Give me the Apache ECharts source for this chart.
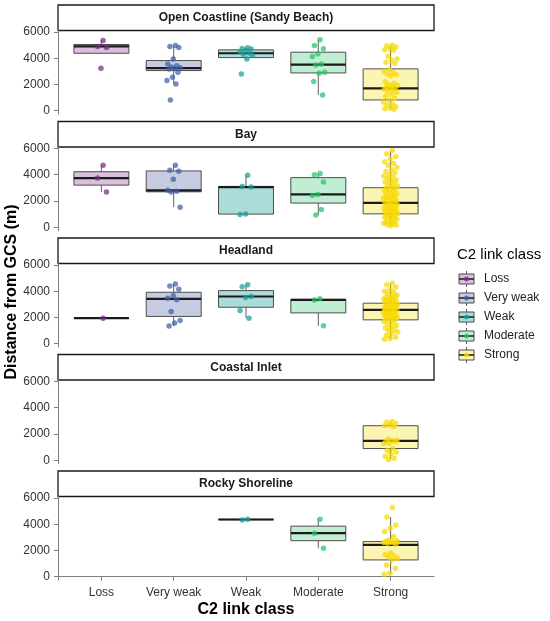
<!DOCTYPE html>
<html>
<head>
<meta charset="utf-8">
<script src="https://cdn.jsdelivr.net/npm/echarts@6.0.0/dist/echarts.min.js"></script>
<style>
	html,body{margin:0;padding:0;background:#fff;}
	#chart{width:550px;height:621px;}
</style>
</head>
<body>
<div id="chart"></div>
<script>
// categories / panels / ticks
var categories = ['Loss', 'Very weak', 'Weak', 'Moderate', 'Strong'];
var panels = ['Open Coastline (Sandy Beach)', 'Bay', 'Headland', 'Coastal Inlet', 'Rocky Shoreline'];
var yTicks = [0, 2000, 4000, 6000];

// box stats per panel: [min, Q1, median, Q3, max], null = no data
var boxOpen     = [[4380, 4380, 4900, 5050, 5360], [2040, 3060, 3250, 3825, 4970], [3950, 4050, 4380, 4640, 4800], [1200, 2880, 3520, 4460, 5410], [100, 820, 1710, 3190, 5000]];
var boxBay      = [[2680, 3210, 3750, 4230, 4720], [1530, 2700, 2810, 4290, 4720], [970, 1000, 3060, 3110, 3960], [940, 1840, 2500, 3780, 4100], [120, 1020, 1860, 3010, 5850]];
var boxHeadland = [[1950, 1950, 1950, 1950, 1950], [1350, 2080, 3420, 3920, 4550], [1950, 2780, 3600, 4050, 4500], [1370, 2350, 3340, 3380, 3420], [350, 1820, 2580, 3090, 4600]];
var boxInlet    = [null, null, null, null, [50, 890, 1480, 2630, 2950]];
var boxRocky    = [null, null, [4330, 4345, 4360, 4375, 4390], [2170, 2745, 3320, 3855, 4390], [180, 1280, 2430, 2680, 4560]];

// individual observations per panel, one list per category
var ptsOpen = [
	[5360, 4900, 4820, 3240],
	[4970, 4900, 4820, 3950, 3570, 3420, 3330, 3280, 3220, 3180, 2930, 2550, 2300, 2040, 820],
	[4800, 4750, 4700, 4600, 4500, 4400, 4300, 4200, 3950, 2800],
	[5410, 4970, 4720, 4340, 4130, 3570, 3480, 2930, 2860, 2220, 1200],
	[5000, 4950, 4850, 4700, 4650, 4600, 4150, 3950, 3850, 3700, 3600, 3150, 3000, 2900, 2800, 2750, 2650, 2200, 2100, 2000,
	 1950, 1850, 1800, 1750, 1700, 1650, 1600, 1500, 1400, 1250, 1100, 950, 800, 650, 500, 400, 300, 200, 150, 100]
];
var ptsBay = [
	[4720, 3750, 2680],
	[4720, 4340, 4260, 3650, 2810, 2750, 2680, 1530],
	[3960, 3100, 3060, 1000, 970],
	[4100, 4000, 3450, 2500, 2420, 1350, 940],
	[5850, 5600, 5400, 5200, 5000, 4850, 4700, 4550, 4400, 4250, 4150, 4000, 3900, 3800, 3700, 3600, 3500, 3450, 3350, 3250,
	 3150, 3050, 3000, 2950, 2850, 2800, 2700, 2650, 2550, 2500, 2400, 2350, 2300, 2200, 2150, 2100, 2050, 1950, 1900, 1850,
	 1800, 1750, 1700, 1650, 1600, 1550, 1450, 1400, 1350, 1300, 1250, 1200, 1150, 1100, 1050, 1000, 950, 900, 850, 800,
	 750, 700, 600, 550, 450, 400, 350, 300, 250, 200, 150, 120]
];
var ptsHeadland = [
	[1950],
	[4550, 4400, 4150, 3650, 3470, 3350, 2450, 1770, 1570, 1350],
	[4500, 4350, 3600, 3520, 2530, 1950],
	[3420, 3340, 1370],
	[4600, 4500, 4300, 4150, 4000, 3900, 3800, 3700, 3650, 3550, 3500, 3450, 3400, 3350, 3300, 3250, 3200, 3150, 3100, 3050,
	 3000, 2950, 2900, 2850, 2800, 2750, 2700, 2650, 2600, 2580, 2550, 2500, 2450, 2400, 2350, 2300, 2250, 2200, 2150, 2100,
	 2050, 2000, 1950, 1900, 1850, 1800, 1700, 1600, 1500, 1400, 1300, 1200, 1100, 1000, 900, 800, 650, 500, 400, 350]
];
var ptsInlet = [
	[], [], [], [],
	[2950, 2900, 2800, 2700, 2650, 2550, 1600, 1550, 1500, 1450, 1400, 1300, 1250, 900, 750, 600, 450, 300, 150, 50]
];
var ptsRocky = [
	[], [],
	[4390, 4330],
	[4390, 3320, 2170],
	[5280, 4560, 3950, 3700, 3450, 3060, 2800, 2750, 2700, 2680, 2650, 2620, 2600, 2580, 2550, 2500, 1800, 1700, 1600, 1500,
	 1400, 1300, 890, 640, 260, 180]
];

var boxData = [boxOpen, boxBay, boxHeadland, boxInlet, boxRocky];
var pointData = [ptsOpen, ptsBay, ptsHeadland, ptsInlet, ptsRocky];

// styles
var catColor = ['#762a83', '#3f60a8', '#1a9e9a', '#22c46a', '#f7d900'];
var boxFill  = ['#d9bfdb', '#c5cce2', '#abdcd9', '#c1edd2', '#fcf4b2'];
var FONT = '"Liberation Sans", Arial, sans-serif';
var AXIS_GREY = '#7f7f7f';
var GRID_LEFT = 58, GRID_W = 376, TOP0 = 30.5, PITCH = 116.5, GRID_H = 83.5, STRIP_H = 25.5;

// fixed jitter, golden-ratio sequence (no randomness)
function jit(i){
	return (((i + 1) * 0.6180339887) % 1 - 0.5) * 0.2;
}

function renderBox(params, api){
	var x = api.value(0), ci = Math.round(x) - 1;
	var half = api.size([0.76, 0])[0] / 2;
	var lo = api.coord([x, api.value(1)]),
		q1 = api.coord([x, api.value(2)]),
		md = api.coord([x, api.value(3)]),
		q3 = api.coord([x, api.value(4)]),
		hi = api.coord([x, api.value(5)]);
	var cx = md[0];
	return {
		type: 'group',
		children: [
			{ type: 'line', shape: { x1: cx, y1: q3[1], x2: cx, y2: hi[1] }, style: { stroke: '#333', lineWidth: 0.8 } },
			{ type: 'line', shape: { x1: cx, y1: q1[1], x2: cx, y2: lo[1] }, style: { stroke: '#333', lineWidth: 0.8 } },
			{ type: 'rect', shape: { x: cx - half, y: q3[1], width: half * 2, height: q1[1] - q3[1] },
				style: { fill: boxFill[ci], stroke: '#4d4d4d', lineWidth: 1 } },
			{ type: 'line', shape: { x1: cx - half, y1: md[1], x2: cx + half, y2: md[1] }, style: { stroke: '#1a1a1a', lineWidth: 2.2 } }
		]
	};
}

var grids = [], xAxes = [], yAxes = [], series = [], graphics = [];

panels.forEach(function(name, p){
	var last = p === panels.length - 1;
	var top = TOP0 + PITCH * p;
	grids.push({ left: GRID_LEFT, width: GRID_W, top: top, height: GRID_H, containLabel: false, outerBoundsMode: 'none' });
	xAxes.push({
		gridIndex: p, type: 'value', min: 0.4, max: 5.6, show: last,
		splitLine: { show: false },
		axisLine: { show: true, lineStyle: { color: AXIS_GREY, width: 1 } },
		axisTick: { show: true, customValues: [1, 2, 3, 4, 5], length: 4, lineStyle: { color: AXIS_GREY } },
		axisLabel: {
			customValues: [1, 2, 3, 4, 5], color: '#333', fontSize: 12, margin: 7, fontFamily: FONT,
			formatter: function(v){ return categories[Math.round(v) - 1]; }
		},
		name: last ? 'C2 link class' : '', nameLocation: 'middle', nameGap: 22,
		nameTextStyle: { fontWeight: 'bold', fontSize: 16, color: '#000', fontFamily: FONT }
	});
	yAxes.push({
		gridIndex: p, type: 'value', min: -250, max: 6115,
		splitLine: { show: false },
		axisLine: { show: true, lineStyle: { color: AXIS_GREY, width: 1 } },
		axisTick: { show: true, customValues: yTicks, length: 4, lineStyle: { color: AXIS_GREY } },
		axisLabel: {
			customValues: yTicks, color: '#333', fontSize: 12, margin: 8, fontFamily: FONT,
			formatter: function(v){ return String(v); }
		}
	});

	// boxes
	var rows = [];
	boxData[p].forEach(function(b, c){
		if(b) rows.push([c + 1].concat(b));
	});
	series.push({
		type: 'custom', xAxisIndex: p, yAxisIndex: p, z: 2, silent: true,
		encode: { x: 0, y: [1, 2, 3, 4, 5] },
		renderItem: renderBox,
		data: rows
	});

	// jittered points
	pointData[p].forEach(function(vals, c){
		if(!vals.length) return;
		series.push({
			type: 'scatter', xAxisIndex: p, yAxisIndex: p, z: 3, silent: true,
			symbol: 'circle', symbolSize: 5.5,
			itemStyle: { color: catColor[c], opacity: 0.72 },
			data: vals.map(function(v, i){ return [c + 1 + jit(i), v]; })
		});
	});

	// strip
	graphics.push({
		type: 'rect', shape: { x: GRID_LEFT, y: top - STRIP_H, width: GRID_W, height: STRIP_H },
		style: { fill: '#fff', stroke: '#1a1a1a', lineWidth: 1.3 }
	});
	graphics.push({
		type: 'text', x: GRID_LEFT + GRID_W / 2, y: top - STRIP_H / 2,
		style: { text: name, font: 'bold 12px ' + FONT, fill: '#1a1a1a', align: 'center', verticalAlign: 'middle' }
	});
});

// y title
graphics.push({
	type: 'text', x: 12, y: 292, rotation: Math.PI / 2,
	style: { text: 'Distance from GCS (m)', font: 'bold 16px ' + FONT, fill: '#000', align: 'center', verticalAlign: 'middle' }
});

// legend
graphics.push({
	type: 'text', x: 457, y: 255,
	style: { text: 'C2 link class', font: '15px ' + FONT, fill: '#000', align: 'left', verticalAlign: 'middle' }
});
categories.forEach(function(cat, c){
	var cy = 279 + c * 19, kx = 459, kw = 15;
	graphics.push({ type: 'line', shape: { x1: kx + kw / 2, y1: cy - 8, x2: kx + kw / 2, y2: cy + 8 }, style: { stroke: '#333', lineWidth: 0.8 } });
	graphics.push({ type: 'rect', shape: { x: kx, y: cy - 5, width: kw, height: 10 }, style: { fill: boxFill[c], stroke: '#4d4d4d', lineWidth: 1 } });
	graphics.push({ type: 'line', shape: { x1: kx, y1: cy, x2: kx + kw, y2: cy }, style: { stroke: '#1a1a1a', lineWidth: 1.5 } });
	graphics.push({ type: 'circle', shape: { cx: kx + kw / 2, cy: cy, r: 2.5 }, style: { fill: catColor[c], opacity: 0.8 } });
	graphics.push({
		type: 'text', x: 484, y: cy,
		style: { text: cat, font: '12px ' + FONT, fill: '#222', align: 'left', verticalAlign: 'middle' }
	});
});

var chart = echarts.init(document.getElementById('chart'), null, { renderer: 'canvas' });
chart.setOption({
	animation: false,
	backgroundColor: '#fff',
	textStyle: { fontFamily: FONT },
	grid: grids,
	xAxis: xAxes,
	yAxis: yAxes,
	series: series,
	graphic: graphics
});
</script>
</body>
</html>
